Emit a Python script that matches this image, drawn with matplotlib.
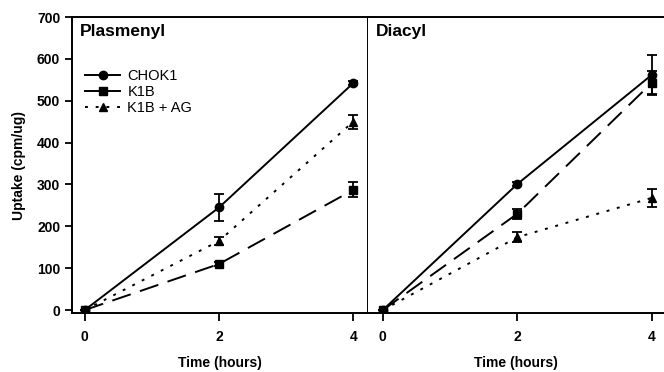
import matplotlib.pyplot as plt
from matplotlib.lines import Line2D

plt.rcParams['font.family'] = ['Liberation Sans', 'DejaVu Sans']
plt.rcParams['font.weight'] = 'bold'

hours = [0, 2, 4]

# Plasmenyl panel
plas_chok1 = [0, 245, 542]
plas_chok1_err = [0, 32, 5]
plas_k1b = [0, 110, 287]
plas_k1b_err = [0, 5, 18]
plas_ag = [0, 165, 450]
plas_ag_err = [0, 10, 17]

# Diacyl panel
dia_chok1 = [0, 301, 562]
dia_chok1_err = [0, 4, 48]
dia_k1b = [0, 230, 543]
dia_k1b_err = [0, 12, 28]
dia_ag = [0, 174, 268]
dia_ag_err = [0, 12, 22]

y_ticks = [0, 100, 200, 300, 400, 500, 600, 700]
x_ticks = [0, 2, 4]

fig = plt.figure(figsize=(6.64, 3.72), dpi=100)
ax1 = fig.add_axes([0.1084, 0.1586, 0.4458, 0.7957])
ax2 = fig.add_axes([0.5542, 0.1586, 0.4458, 0.7957])


def draw_panel(ax, chok1, chok1_err, k1b, k1b_err, ag, ag_err, title):
    ax.errorbar(hours, chok1, yerr=chok1_err, color='black', lw=1.4, marker='o',
                markersize=6, capsize=3.5, elinewidth=1.3, capthick=1.3)
    ax.errorbar(hours, k1b, yerr=k1b_err, color='black', lw=1.4, marker='s',
                markersize=5.5, capsize=3.5, elinewidth=1.3, capthick=1.3,
                dashes=(10, 5))
    ax.errorbar(hours, ag, yerr=ag_err, color='black', lw=1.4, marker='^',
                markersize=6, capsize=3.5, elinewidth=1.3, capthick=1.3,
                dashes=(1.5, 4))
    ax.set_ylim(-7, 700)
    ax.set_xticks(x_ticks)
    ax.tick_params(axis='x', direction='out', length=6, width=1.3, labelsize=10, pad=6)
    ax.set_xlabel('Time (hours)', fontsize=10, fontweight='bold', labelpad=9)
    ax.text(0.025, 0.975, title, transform=ax.transAxes, fontsize=12.5,
            fontweight='bold', va='top', ha='left')
    for side in ['left', 'bottom', 'top', 'right']:
        ax.spines[side].set_linewidth(1.4)


draw_panel(ax1, plas_chok1, plas_chok1_err, plas_k1b, plas_k1b_err,
           plas_ag, plas_ag_err, 'Plasmenyl')
draw_panel(ax2, dia_chok1, dia_chok1_err, dia_k1b, dia_k1b_err,
           dia_ag, dia_ag_err, 'Diacyl')

ax1.set_xlim(-0.19, 4.22)
ax2.set_xlim(-0.22, 4.18)

ax1.set_yticks(y_ticks)
ax1.tick_params(axis='y', direction='out', length=5, width=1.3, labelsize=10)
ax1.set_ylabel('Uptake (cpm/ug)', fontsize=10, fontweight='bold', labelpad=8)

ax2.set_yticks([])
ax2.spines['right'].set_visible(False)
ax2.spines['left'].set_visible(False)

handles = [
    Line2D([], [], color='black', lw=1.4, marker='o', markersize=6),
    Line2D([], [], color='black', lw=1.4, marker='s', markersize=5.5),
    Line2D([], [], color='black', lw=1.4, marker='^', markersize=6, dashes=(1.5, 4)),
]
ax1.legend(handles, ['CHOK1', 'K1B', 'K1B + AG'], loc='upper left',
           bbox_to_anchor=(0.0, 0.87), frameon=False,
           handlelength=2.4, handletextpad=0.5, labelspacing=0.15,
           prop={'weight': 'normal', 'size': 10.5})

plt.savefig('out.png', dpi=100)
